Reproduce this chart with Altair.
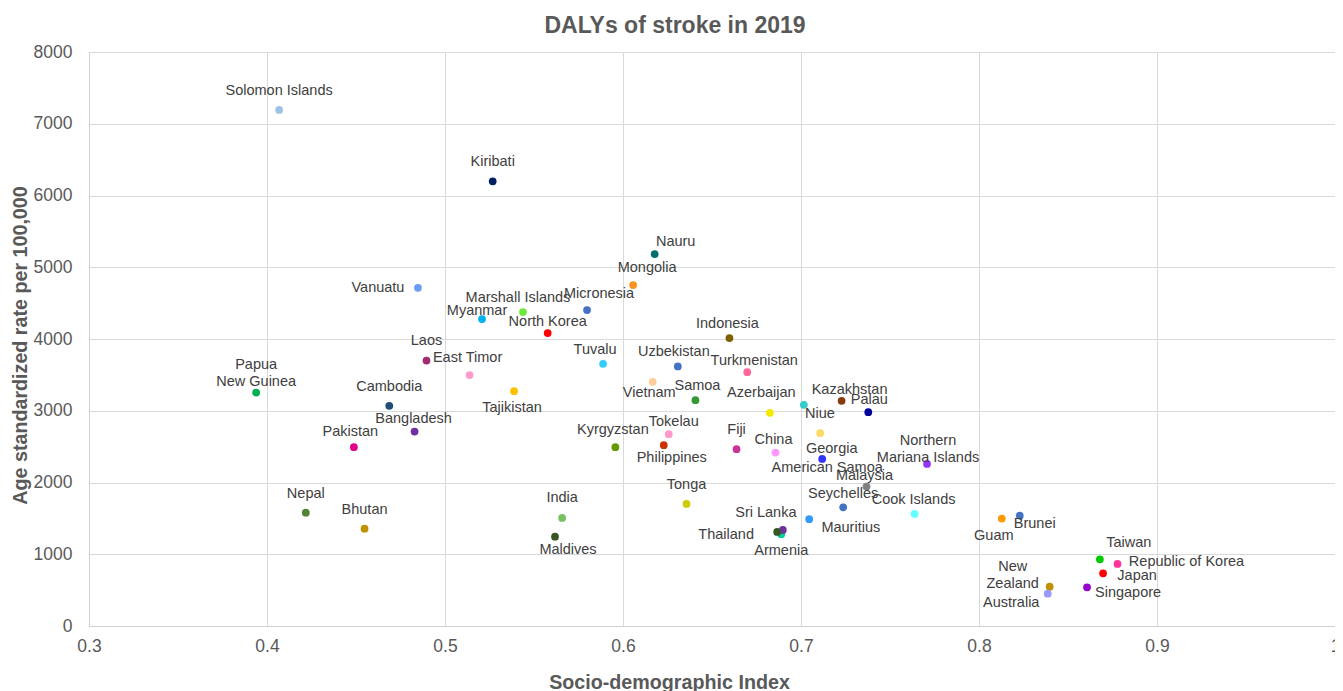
import altair as alt
import pandas as pd

countries = ["Solomon Islands", "Kiribati", "Nauru", "Mongolia", "Vanuatu", "Marshall Islands",
             "Micronesia", "Myanmar", "North Korea", "Indonesia", "Laos", "East Timor", "Tuvalu",
             "Uzbekistan", "Turkmenistan", "Vietnam", "Papua New Guinea", "Tajikistan", "Samoa",
             "Kazakhstan", "Cambodia", "Azerbaijan", "Niue", "Palau", "Georgia", "American Samoa",
             "Bangladesh", "Pakistan", "Kyrgyzstan", "Tokelau", "Philippines", "Fiji", "China",
             "Northern Mariana Islands", "Malaysia", "Seychelles", "Cook Islands", "Tonga", "India",
             "Nepal", "Bhutan", "Maldives", "Mauritius", "Armenia", "Sri Lanka", "Thailand", "Guam",
             "Brunei", "Taiwan", "Republic of Korea", "Japan", "New Zealand", "Australia", "Singapore"]

label_text = ["Solomon Islands", "Kiribati", "Nauru", "Mongolia", "Vanuatu", "Marshall Islands",
              "Micronesia", "Myanmar", "North Korea", "Indonesia", "Laos", "East Timor", "Tuvalu",
              "Uzbekistan", "Turkmenistan", "Vietnam", "Papua\nNew Guinea", "Tajikistan", "Samoa",
              "Kazakhstan", "Cambodia", "Azerbaijan", "Niue", "Palau", "Georgia", "American Samoa",
              "Bangladesh", "Pakistan", "Kyrgyzstan", "Tokelau", "Philippines", "Fiji", "China",
              "Northern\nMariana Islands", "Malaysia", "Seychelles", "Cook Islands", "Tonga", "India",
              "Nepal", "Bhutan", "Maldives", "Mauritius", "Armenia", "Sri Lanka", "Thailand", "Guam",
              "Brunei", "Taiwan", "Republic of Korea", "Japan", "New\nZealand", "Australia", "Singapore"]

sdi = [0.4068, 0.5268, 0.6178, 0.6057, 0.4848, 0.5438,
       0.5798, 0.5208, 0.5577, 0.6598, 0.4896, 0.5138, 0.5888,
       0.6308, 0.6698, 0.6167, 0.3939, 0.5388, 0.6407,
       0.7228, 0.4687, 0.6825, 0.7016, 0.7378, 0.7108, 0.7119,
       0.4829, 0.4488, 0.5957, 0.6257, 0.6229, 0.6638, 0.6857,
       0.7708, 0.7368, 0.7237, 0.7638, 0.6357, 0.5658,
       0.4218, 0.4548, 0.5618, 0.7046, 0.6889, 0.6898, 0.6866, 0.8128,
       0.8229, 0.8679, 0.8778, 0.8697, 0.8397, 0.8386, 0.8607]

daly = [7192, 6197, 5184, 4752, 4714, 4375,
        4403, 4278, 4082, 4013, 3700, 3497, 3654,
        3617, 3538, 3403, 3254, 3273, 3148,
        3138, 3068, 2971, 3082, 2980, 2688, 2329,
        2710, 2492, 2492, 2674, 2520, 2464, 2417,
        2259, 1943, 1655, 1562, 1702, 1506,
        1580, 1357, 1245, 1488, 1279, 1339, 1311, 1497,
        1538, 930, 865, 735, 548, 450, 540]

colors = ["#9dc3e6", "#002060", "#006e6a", "#f7931e", "#6b9bf2", "#6ee83a",
          "#4472c4", "#00b0f0", "#ff0000", "#7f6000", "#a02b6f", "#ff99cc", "#33ccff",
          "#4472c4", "#ff6699", "#ffcc99", "#00b050", "#ffc000", "#339933",
          "#843c0c", "#1f4e79", "#f5e900", "#33cccc", "#000099", "#ffd966", "#3333ff",
          "#7030a0", "#e0008a", "#669900", "#ff99cc", "#cc3300", "#cc3399", "#ff99ff",
          "#9933ff", "#808080", "#4472c4", "#66ffff", "#cccc00", "#77c060",
          "#548235", "#bf9000", "#375623", "#3399ff", "#00cc99", "#7030a0", "#375623", "#ff9900",
          "#4472c4", "#00cc00", "#ff3399", "#ff0000", "#bf9000", "#9999ff", "#9900cc"]

# label placement (pixel offsets from each point, right/down positive)
label_dx = [0, 0, 21, 14, -40, -5,
            12, -5, 0, -2, 0, -2, -8,
            -4, 7, -3.5, 0, -2, 2,
            8, 0, -8.5, 16, 1, 11.5, 5,
            -1, -3.5, -2.5, 5, 8, 0, -2,
            1, -2, 0, -1, 0, 0,
            0, 0, 13, 41.6, 0, -17, -51, -8,
            15, 29, 69, 34, -37, -36.5, 41]
label_dy = [-19, -19, -12, -17, 0, -14,
            -16, -8, -11, -14, -20, -17, -14,
            -14, -11, 11, -28, 17, -14,
            -11, -19, -20, 9, -12, 15.7, 9,
            -13, -15, -17, -12, 13, -19, -13,
            -22.5, -11, -13, -14, -19, -20,
            -19, -19, 13, 8.4, 17, -17, 3, 17,
            8, -16, -2, 3, -20, 9.6, 6]

PLOT_W, PLOT_H = 1246, 574
X_MIN, X_MAX, Y_MIN, Y_MAX = 0.3, 1.0, 0, 8000

df = pd.DataFrame({"country": countries, "label": label_text, "sdi": sdi, "daly": daly,
                   "color": colors, "ldx": label_dx, "ldy": label_dy})
df["lx"] = df["sdi"] + df["ldx"] * (X_MAX - X_MIN) / PLOT_W
df["ly"] = df["daly"] - df["ldy"] * (Y_MAX - Y_MIN) / PLOT_H

FONT = "Liberation Sans"

xscale = alt.Scale(domain=[X_MIN, X_MAX], nice=False, zero=False)
yscale = alt.Scale(domain=[Y_MIN, Y_MAX], nice=False)

xaxis = alt.Axis(title="Socio-demographic Index", values=[0.3, 0.4, 0.5, 0.6, 0.7, 0.8, 0.9, 1.0],
                 format="~g", ticks=False, tickSize=0, labelPadding=11, labelFontSize=17.5,
                 labelColor="#595959", labelFont=FONT, titleFont=FONT, titleFontSize=19.7,
                 titleFontWeight="bold", titleColor="#595959", titlePadding=18, titleX=580,
                 grid=True, gridColor="#d9d9d9", domainColor="#d0d0d0", labelFlush=False)
yaxis = alt.Axis(title="Age standardized rate per 100,000",
                 values=[0, 1000, 2000, 3000, 4000, 5000, 6000, 7000, 8000], format="d",
                 ticks=False, tickSize=0, labelPadding=17, labelFontSize=17.5,
                 labelColor="#595959", labelFont=FONT, titleFont=FONT, titleFontSize=19.7,
                 titleFontWeight="bold", titleColor="#595959", titlePadding=3, titleY=293,
                 grid=True, gridColor="#d9d9d9", domainColor="#d0d0d0")

points = alt.Chart(df).mark_circle(size=60, opacity=1).encode(
    x=alt.X("sdi:Q", scale=xscale, axis=xaxis),
    y=alt.Y("daly:Q", scale=yscale, axis=yaxis),
    color=alt.Color("color:N", scale=None),
)

labels = alt.Chart(df).mark_text(font=FONT, fontSize=14.5, color="#404040", align="center",
                                 baseline="middle", lineBreak="\n", lineHeight=17).encode(
    x=alt.X("lx:Q", scale=xscale),
    y=alt.Y("ly:Q", scale=yscale),
    text="label:N",
)

chart = alt.layer(points, labels).properties(
    width=PLOT_W, height=PLOT_H,
    title=alt.TitleParams("DALYs of stroke in 2019", font=FONT, fontSize=23, fontWeight="bold",
                          color="#595959", anchor="middle", dx=-37, offset=5),
    autosize=alt.AutoSizeParams(type="none"),
    padding={"left": 81, "top": 44, "right": 0, "bottom": 65},
).configure_view(stroke=None).configure(background="white")

chart.save("out.html", embed_options={"renderer": "svg", "actions": False})
